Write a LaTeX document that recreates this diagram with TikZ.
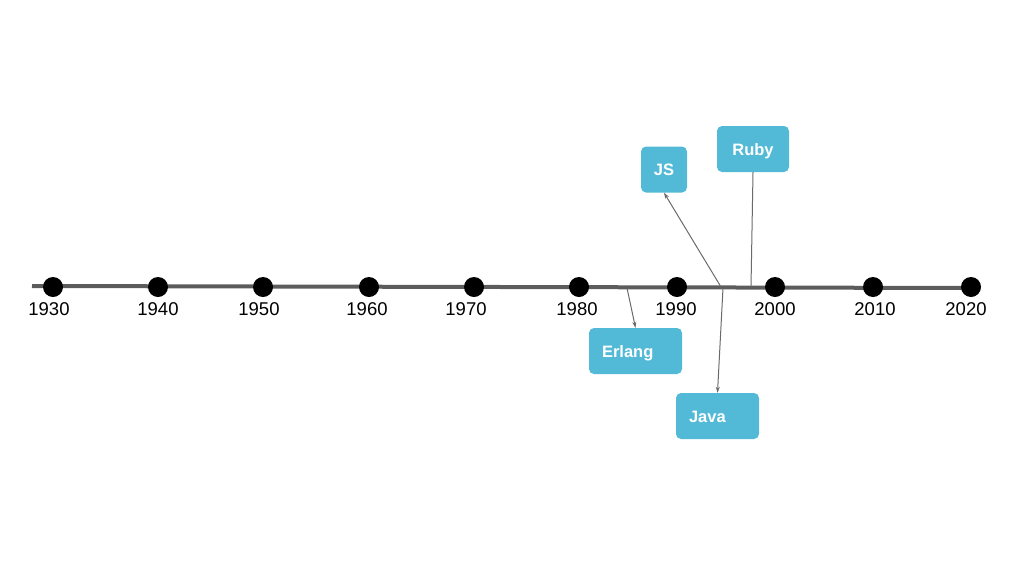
\documentclass[tikz,border=0pt]{standalone}
\usepackage{fontspec}
\setmainfont{Liberation Sans}
\usetikzlibrary{arrows.meta}
\definecolor{boxblue}{HTML}{52BAD6}
\definecolor{axisgray}{HTML}{5C5C5C}
\definecolor{linkgray}{HTML}{6A6A6A}
\tikzset{
  yeardot/.style={circle,fill=black,inner sep=0pt,minimum size=20pt},
  yearlabel/.style={font=\fontsize{18.5}{18.5}\selectfont,inner sep=0pt},
  langbox/.style={rounded corners=5pt,fill=boxblue,text=white,font=\bfseries\fontsize{16.5}{16.5}\selectfont,minimum height=46pt,inner sep=0pt,text height=12pt,text depth=0pt},
  leftbox/.style={langbox,align=left,text width=#1,inner xsep=13pt},
  link/.style={draw=linkgray,line width=1pt},
  linkarrow/.style={link,-{Stealth[length=6pt,width=4pt]}}
}
\begin{document}
\begin{tikzpicture}[x=1pt,y=-1pt]
\useasboundingbox (0,0) rectangle (1024,576);
\coordinate (ls) at (32,286);
\coordinate (le) at (975,288);
\draw[axisgray,line width=4pt] (ls) -- (le);
\foreach \yr/\x/\lx in {1930/53/49,1940/158/158,1950/263/259,1960/369/367,1970/474/466,1980/579/577,1990/677/676,2000/775/775,2010/873/875,2020/971/966}{
  \node[yeardot] (d\yr) at (\x,287) {};
  \node[yearlabel] (t\yr) at (\lx,309) {\yr};
}
% boxes
\node[langbox,minimum width=46pt] (js) at (664,169.5) {JS};
\node[langbox,minimum width=72pt] (ruby) at (753,149) {Ruby};
\node[leftbox=67pt,minimum width=93pt] (erlang) at (635.5,351) {Erlang};
\node[leftbox=57pt,minimum width=83pt] (java) at (717.5,416) {Java};
% anchors on the axis
\coordinate (pjs) at (721,287);
\coordinate (pruby) at (751,287);
\coordinate (perl) at (627,288);
\coordinate (pjava) at (723,288);
\draw[linkarrow] (pjs) -- (js.south);
\draw[link] (pruby) -- (ruby.south);
\draw[linkarrow] (perl) -- (erlang.north);
\draw[linkarrow] (pjava) -- (java.north);
\end{tikzpicture}
\end{document}
